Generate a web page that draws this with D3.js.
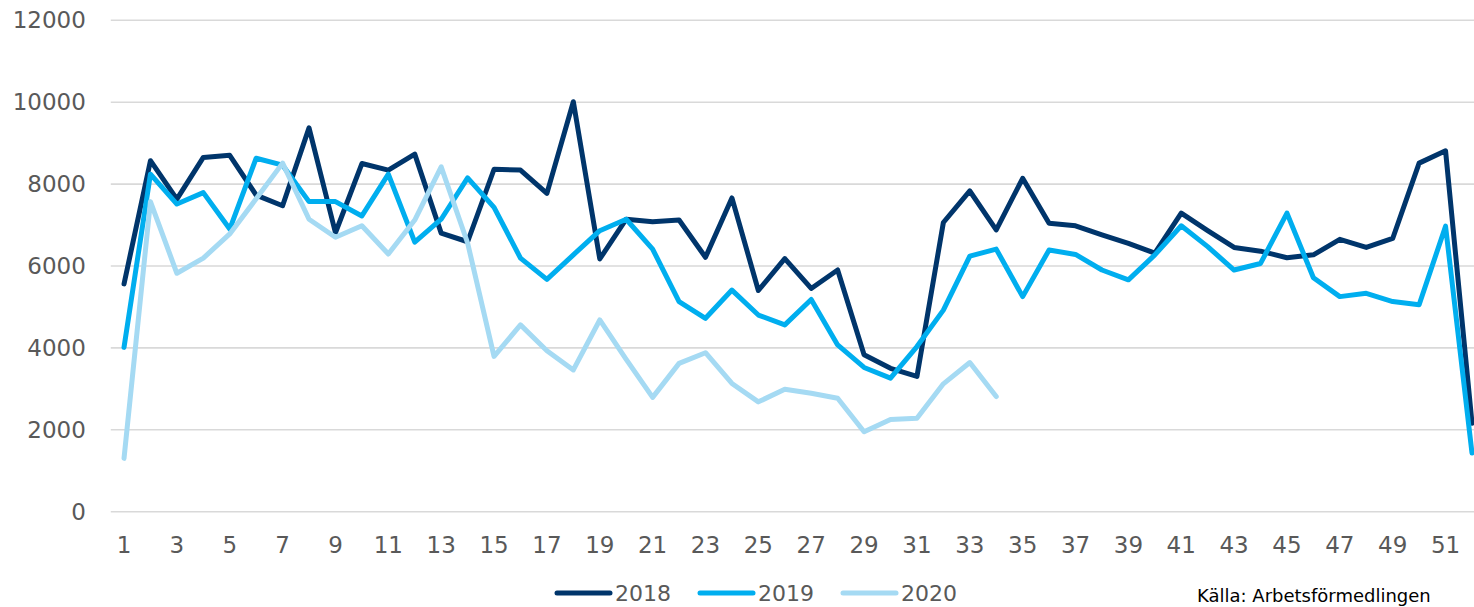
<!DOCTYPE html>
<html>
<head>
<meta charset="utf-8">
<script src="https://cdn.jsdelivr.net/npm/d3@7"></script>
<style>
  html, body { margin: 0; padding: 0; background: #fff; overflow: hidden; }
  svg { display: block; }
</style>
</head>
<body>
<svg id="chart" width="1474" height="607"></svg>
<script>
const weeks = d3.range(1, 53);
const yTicks = [0, 2000, 4000, 6000, 8000, 10000, 12000];
const xTickLabels = d3.range(1, 53, 2);
const seriesNames = ["2018", "2019", "2020"];
const seriesColors = ["#00356b", "#00aeef", "#a5daf3"];

const values2018 = [5550, 8560, 7620, 8640, 8690, 7720, 7460, 9360, 6800, 8490, 8330, 8720, 6790, 6580, 8350, 8330, 7760, 10000, 6160, 7130, 7070, 7110, 6200, 7650, 5390, 6170, 5440, 5890, 3820, 3490, 3290, 7050, 7820, 6870, 8130, 7030, 6970, 6750, 6540, 6300, 7280, 6850, 6440, 6350, 6190, 6260, 6640, 6440, 6660, 8500, 8800, 2150];
const values2019 = [4000, 8230, 7500, 7780, 6890, 8620, 8450, 7560, 7560, 7210, 8230, 6570, 7130, 8140, 7420, 6180, 5660, 6260, 6850, 7130, 6400, 5120, 4710, 5400, 4790, 4550, 5170, 4060, 3510, 3250, 4020, 4910, 6230, 6400, 5240, 6380, 6270, 5890, 5650, 6260, 6970, 6460, 5890, 6050, 7280, 5700, 5240, 5320, 5120, 5040, 6960, 1420];
const values2020 = [1290, 7560, 5810, 6180, 6770, 7630, 8500, 7130, 6690, 6970, 6280, 7110, 8410, 6550, 3780, 4550, 3920, 3450, 4670, 3710, 2780, 3610, 3870, 3120, 2670, 2980, 2880, 2760, 1940, 2240, 2270, 3110, 3630, 2800];
const sourceText = "Källa: Arbetsförmedlingen";

const seriesValues = [values2018, values2019, values2020];

const svg = d3.select("#chart");
const font = "'DejaVu Sans', Verdana, sans-serif";
const plotLeft = 110.8, plotRight = 1485.2, plotTop = 19.8, plotBottom = 511.2;

const x = d3.scaleBand().domain(weeks).range([plotLeft, plotRight]).padding(0);
const cx = d => x(d) + x.bandwidth() / 2;
const y = d3.scaleLinear().domain([0, 12000]).range([plotBottom, plotTop]);

// gridlines
const yAxis = d3.axisLeft(y).tickValues(yTicks).tickSize(-(plotRight - plotLeft)).tickPadding(25).tickFormat(d3.format("d"));
const gy = svg.append("g").attr("transform", `translate(${plotLeft},0)`).call(yAxis);
gy.select(".domain").remove();
gy.selectAll(".tick line").attr("stroke", "#d9d9d9").attr("stroke-width", 1.6);
gy.selectAll(".tick text").attr("fill", "#595959").style("font-family", font).style("font-size", "23px").attr("dy", "0.35em");

// x axis labels
const xAxis = d3.axisBottom(x).tickValues(xTickLabels).tickSize(0).tickPadding(0);
const gx = svg.append("g").attr("transform", `translate(0,${plotBottom})`).call(xAxis);
gx.select(".domain").remove();
gx.selectAll(".tick text").attr("fill", "#595959").style("font-family", font).style("font-size", "23px").attr("y", 34).attr("dy", "0.35em");

// lines
const line = d3.line().x((d, i) => cx(weeks[i])).y(d => y(d));
seriesValues.forEach((vals, i) => {
  svg.append("path")
    .datum(vals)
    .attr("d", line)
    .attr("fill", "none")
    .attr("stroke", seriesColors[i])
    .attr("stroke-width", 5)
    .attr("stroke-linejoin", "round")
    .attr("stroke-linecap", "round");
});

// legend
const legendX = [557, 700, 843];
const legend = svg.append("g");
seriesNames.forEach((name, i) => {
  legend.append("line")
    .attr("x1", legendX[i]).attr("x2", legendX[i] + 53)
    .attr("y1", 593).attr("y2", 593)
    .attr("stroke", seriesColors[i]).attr("stroke-width", 5).attr("stroke-linecap", "round");
  legend.append("text")
    .attr("x", legendX[i] + 58).attr("y", 601)
    .attr("fill", "#595959").style("font-family", font).style("font-size", "22px")
    .text(name);
});

svg.append("text")
  .attr("x", 1197).attr("y", 602)
  .attr("fill", "#000").style("font-family", font).style("font-size", "18px")
  .text(sourceText);
</script>
</body>
</html>
